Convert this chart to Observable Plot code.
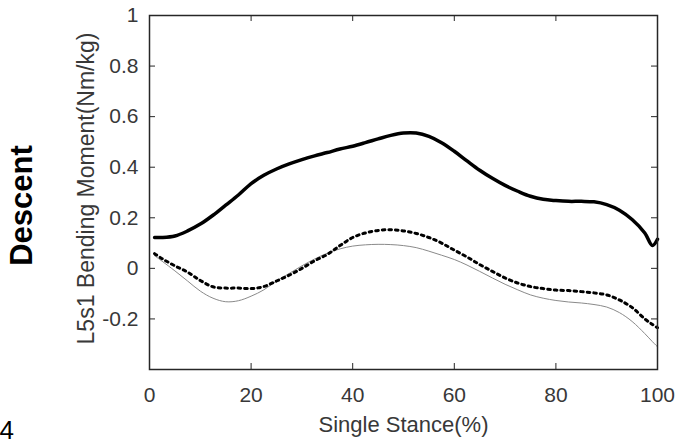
<!DOCTYPE html>
<html>
<head>
<meta charset="utf-8">
<script src="https://cdn.jsdelivr.net/npm/d3@7"></script>
<script src="https://cdn.jsdelivr.net/npm/@observablehq/plot@0.6"></script>
<style>
  html, body { margin: 0; padding: 0; background: #fff; }
  #chart svg { display: block; }
</style>
</head>
<body>
<div id="chart"></div>
<script>
const stance = [1, 2.5, 5, 7.5, 10, 12.5, 15, 17.5, 20, 22.5, 25, 27.5, 30, 32.5, 35, 37.5, 40, 42.5, 45, 47.5, 50, 52.5, 55, 57.5, 60, 62.5, 65, 67.5, 70, 72.5, 75, 77.5, 80, 82.5, 85, 87.5, 90, 92.5, 95, 97.5, 99, 100];
const solidSeries = [0.122, 0.122, 0.128, 0.148, 0.175, 0.21, 0.25, 0.29, 0.335, 0.368, 0.393, 0.413, 0.43, 0.445, 0.458, 0.472, 0.483, 0.497, 0.512, 0.526, 0.535, 0.535, 0.522, 0.497, 0.463, 0.425, 0.388, 0.356, 0.328, 0.305, 0.285, 0.273, 0.268, 0.265, 0.265, 0.263, 0.252, 0.23, 0.193, 0.14, 0.09, 0.115];
const dottedSeries = [0.058, 0.038, 0.01, -0.015, -0.048, -0.073, -0.078, -0.078, -0.08, -0.072, -0.05, -0.027, 0.0, 0.03, 0.055, 0.09, 0.122, 0.14, 0.15, 0.153, 0.148, 0.138, 0.122, 0.1, 0.072, 0.045, 0.015, -0.012, -0.038, -0.058, -0.072, -0.08, -0.086, -0.088, -0.092, -0.097, -0.105, -0.125, -0.155, -0.2, -0.222, -0.235];
const graySeries = [0.05, 0.028, -0.01, -0.05, -0.09, -0.118, -0.132, -0.128, -0.11, -0.085, -0.05, -0.02, 0.01, 0.037, 0.06, 0.077, 0.088, 0.093, 0.095, 0.094, 0.09, 0.082, 0.068, 0.052, 0.035, 0.013, -0.012, -0.038, -0.063, -0.085, -0.105, -0.118, -0.127, -0.133, -0.137, -0.143, -0.153, -0.175, -0.21, -0.258, -0.29, -0.31];

const xTicks = [0, 20, 40, 60, 80, 100];
const yTicks = [-0.2, 0, 0.2, 0.4, 0.6, 0.8, 1];
const yTickLabels = ["-0.2", "0", "0.2", "0.4", "0.6", "0.8", "1"];
const xDomain = [0, 100];
const yDomain = [-0.4, 1];
const xLabel = "Single Stance(%)";
const yLabel = "L5s1 Bending Moment(Nm/kg)";
const rowLabel = "Descent";
const panelNumber = "4";

const table = stance.map((x, i) => ({x, solid: solidSeries[i], dotted: dottedSeries[i], gray: graySeries[i]}));

const W = 676, H = 445;
const mL = 149, mR = 19, mT = 15, mB = 76;
const plotW = W - mL - mR, plotH = H - mT - mB;
const tickLen = 6;
const axisColor = "#262626";
const textColor = "#383838";

const chart = Plot.plot({
  width: W,
  height: H,
  marginLeft: mL,
  marginRight: mR,
  marginTop: mT,
  marginBottom: mB,
  style: {fontFamily: "'Liberation Sans', Arial, sans-serif", background: "#fff", overflow: "visible"},
  x: {domain: xDomain},
  y: {domain: yDomain},
  marks: [
    Plot.line(table, {x: "x", y: "gray", stroke: "#8a8a8a", strokeWidth: 1, curve: "catmull-rom"}),
    Plot.line(table, {x: "x", y: "dotted", stroke: "#000", strokeWidth: 3, strokeDasharray: "2.6,4", curve: "catmull-rom"}),
    Plot.line(table, {x: "x", y: "solid", stroke: "#000", strokeWidth: 3.5, curve: "catmull-rom"}),
    Plot.frame({stroke: axisColor, strokeWidth: 1.5}),
    Plot.tickX(xTicks, {x: d => d, insetTop: plotH - tickLen, stroke: axisColor}),
    Plot.tickX(xTicks, {x: d => d, insetBottom: plotH - tickLen, stroke: axisColor}),
    Plot.tickY(yTicks, {y: d => d, insetRight: plotW - tickLen, stroke: axisColor}),
    Plot.tickY(yTicks, {y: d => d, insetLeft: plotW - tickLen, stroke: axisColor}),
    Plot.axisX(xTicks, {tickSize: 0, tickPadding: 18, fontSize: 21, fill: textColor, label: null, tickFormat: d => String(d)}),
    Plot.axisY(yTicks, {tickSize: 0, tickPadding: 11, fontSize: 21, fill: textColor, label: null, tickFormat: d => yTickLabels[yTicks.indexOf(d)]}),
    Plot.text([xLabel], {text: d => d, frameAnchor: "bottom", dy: 55, fontSize: 22, fill: textColor, lineAnchor: "middle"}),
    Plot.text([yLabel], {text: d => d, frameAnchor: "left", textAnchor: "middle", rotate: -90, dx: -63, dy: -4, fontSize: 23, fill: textColor, lineAnchor: "middle"}),
    Plot.text([rowLabel], {text: d => d, frameAnchor: "left", textAnchor: "middle", rotate: -90, dx: -127, dy: 13, fontSize: 31, fontWeight: "bold", fill: "#000", lineAnchor: "middle"}),
    Plot.text([panelNumber], {text: d => d, frameAnchor: "bottom-left", textAnchor: "start", dx: -150, dy: 61, fontSize: 26, fill: "#000", lineAnchor: "middle"})
  ]
});
document.getElementById("chart").appendChild(chart);
</script>
</body>
</html>
